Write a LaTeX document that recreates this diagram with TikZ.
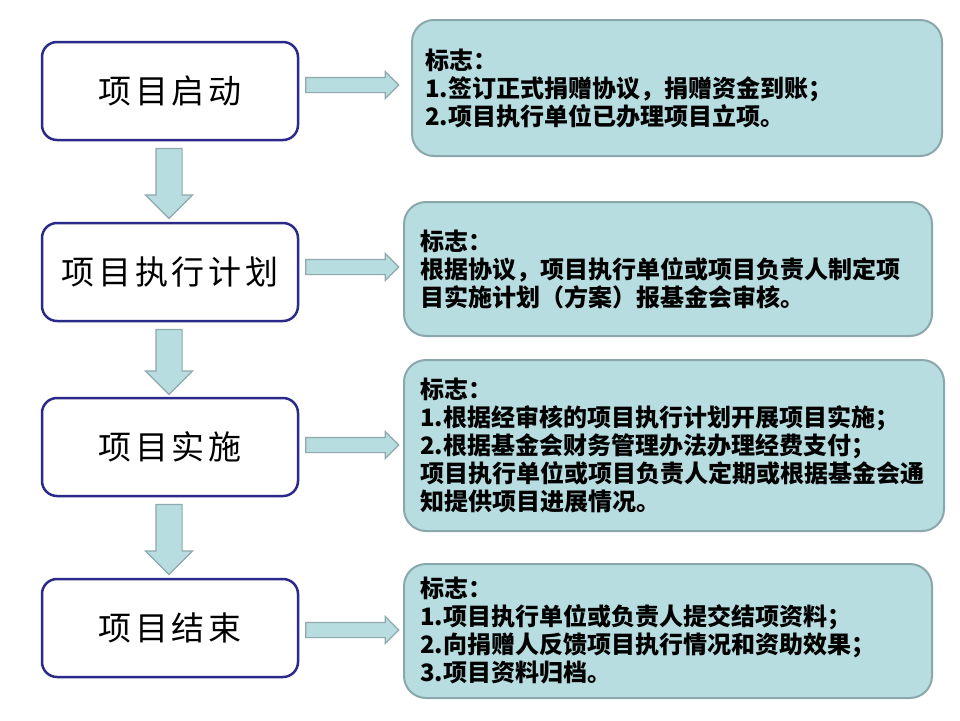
\documentclass[tikz,border=0pt]{standalone}
\usepackage{fontspec}
\setmainfont{Noto Sans CJK SC}
\newfontfamily\cjk{Noto Sans CJK SC}
\usepackage{tikz}
\usetikzlibrary{shapes.arrows}
\definecolor{navy}{HTML}{2B2A8A}
\definecolor{notefill}{HTML}{B7DDE0}
\definecolor{noteline}{HTML}{8AA8AC}
\definecolor{arrowline}{HTML}{8FA9AC}

\begin{document}
\begin{tikzpicture}[
  x=1pt,
  y=-1pt,
  stage/.style={
    rectangle,rounded corners=15pt,draw=navy,line width=2.5pt,fill=white,
    minimum width=256pt,minimum height=98pt,inner sep=0pt,
    font=\cjk\fontsize{33}{38}\selectfont\addfontfeature{LetterSpace=11}
  },
  note/.style={
    rectangle,rounded corners=22pt,draw=noteline,line width=2pt,fill=notefill,
    inner xsep=16pt,inner ysep=0pt,align=left,
    font=\cjk\bfseries\fontsize{24}{28}\selectfont
  },
  blockdown/.style={
    single arrow,draw=arrowline,fill=notefill,line width=1.2pt,inner sep=12.5pt,
    single arrow head extend=10.5pt,shape border rotate=270
  },
  blockright/.style={
    single arrow,draw=arrowline,fill=notefill,line width=1.2pt,inner sep=7pt,
    single arrow head extend=6pt,minimum height=93pt
  }
]
  \useasboundingbox (0,0) rectangle (960,720);

  % stages
  \node[stage] (start) at (170,91) {项目启动};
  \node[stage] (plan) at (170,272) {项目执行计划};
  \node[stage] (impl) at (170,447) {项目实施};
  \node[stage] (finish) at (170,628) {项目结束};

  % notes
  \node[note,inner xsep=13pt,text width=504pt,minimum height=136pt] (startnote) at (677,88)
    {标志：\\1.签订正式捐赠协议，捐赠资金到账；\\2.项目执行单位已办理项目立项。};
  \node[note,text width=496pt,minimum height=134pt] (plannote) at (668,269)
    {标志：\\根据协议，项目执行单位或项目负责人制定项\\目实施计划（方案）报基金会审核。};
  \node[note,text width=508pt,minimum height=171pt] (implnote) at (674,445.5)
    {标志：\\1.根据经审核的项目执行计划开展项目实施；\\2.根据基金会财务管理办法办理经费支付；\\项目执行单位或项目负责人定期或根据基金会通\\知提供项目进展情况。};
  \node[note,text width=496pt,minimum height=134pt] (finishnote) at (668,631)
    {标志：\\1.项目执行单位或负责人提交结项资料；\\2.向捐赠人反馈项目执行情况和资助效果；\\3.项目资料归档。};

  % arrows down
  \node[blockdown,minimum height=70pt] (down-a) at (169,177) {};
  \node[blockdown,minimum height=65pt] (down-b) at (169,355.5) {};
  \node[blockdown,minimum height=70pt] (down-c) at (169,533) {};

  % arrows right
  \node[blockright] (right-a) at (348.5,85) {};
  \node[blockright] (right-b) at (348.5,267) {};
  \node[blockright] (right-c) at (348.5,445) {};
  \node[blockright] (right-d) at (348.5,630) {};
\end{tikzpicture}
\end{document}
